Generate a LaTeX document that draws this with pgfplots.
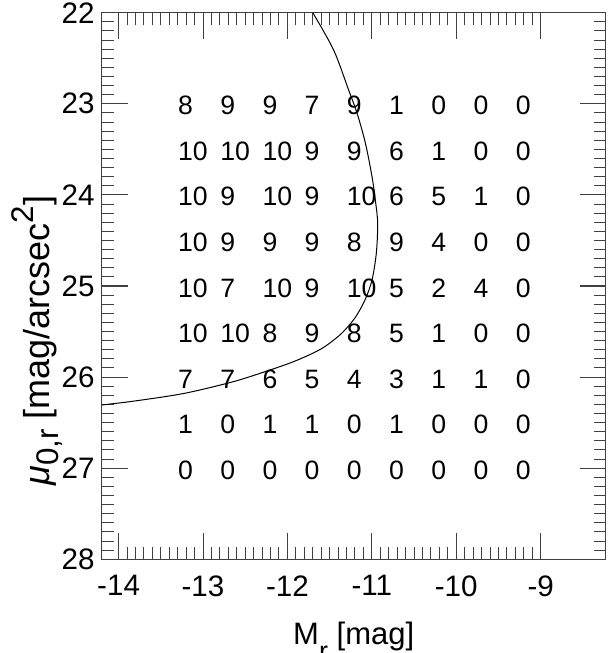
\documentclass[border=0pt]{standalone}
\usepackage{pgfplots}
\pgfplotsset{compat=1.18}
\usepackage{fontspec}
\setmainfont{Liberation Sans}
\newcommand{\lowr}[1]{\raisebox{-0.5em}{\fontsize{0.87em}{1em}\selectfont #1}}
\newcommand{\lowy}[1]{\raisebox{-0.25em}{\fontsize{0.87em}{1em}\selectfont #1}}
\newcommand{\upr}[1]{\raisebox{0.45em}{\fontsize{0.87em}{1em}\selectfont #1}}

% counts per bin: x = left edge of the number, y = row
\pgfplotstableread{
x y n
-13.3 23 8
-12.8 23 9
-12.3 23 9
-11.8 23 7
-11.3 23 9
-10.8 23 1
-10.3 23 0
-9.8 23 0
-9.3 23 0
-13.3 23.5 10
-12.8 23.5 10
-12.3 23.5 10
-11.8 23.5 9
-11.3 23.5 9
-10.8 23.5 6
-10.3 23.5 1
-9.8 23.5 0
-9.3 23.5 0
-13.3 24 10
-12.8 24 9
-12.3 24 10
-11.8 24 9
-11.3 24 10
-10.8 24 6
-10.3 24 5
-9.8 24 1
-9.3 24 0
-13.3 24.5 10
-12.8 24.5 9
-12.3 24.5 9
-11.8 24.5 9
-11.3 24.5 8
-10.8 24.5 9
-10.3 24.5 4
-9.8 24.5 0
-9.3 24.5 0
-13.3 25 10
-12.8 25 7
-12.3 25 10
-11.8 25 9
-11.3 25 10
-10.8 25 5
-10.3 25 2
-9.8 25 4
-9.3 25 0
-13.3 25.5 10
-12.8 25.5 10
-12.3 25.5 8
-11.8 25.5 9
-11.3 25.5 8
-10.8 25.5 5
-10.3 25.5 1
-9.8 25.5 0
-9.3 25.5 0
-13.3 26 7
-12.8 26 7
-12.3 26 6
-11.8 26 5
-11.3 26 4
-10.8 26 3
-10.3 26 1
-9.8 26 1
-9.3 26 0
-13.3 26.5 1
-12.8 26.5 0
-12.3 26.5 1
-11.8 26.5 1
-11.3 26.5 0
-10.8 26.5 1
-10.3 26.5 0
-9.8 26.5 0
-9.3 26.5 0
-13.3 27 0
-12.8 27 0
-12.3 27 0
-11.8 27 0
-11.3 27 0
-10.8 27 0
-10.3 27 0
-9.8 27 0
-9.3 27 0
}\counts

\begin{document}
\begin{tikzpicture}
\begin{axis}[
  name=ax,
  scale only axis,
  width=252pt, height=273.3pt,
  xmin=-14.2, xmax=-8.23,
  ymin=22, ymax=28,
  y dir=reverse,
  xtick={-14,-13,-12,-11,-10,-9},
  ytick={22,23,24,25,26,27,28},
  minor tick num=9,
  tick align=inside,
  major tick length=13pt,
  minor tick length=6pt,
  every tick/.style={black!75, line width=0.5pt},
  axis line style={black!75, line width=0.5pt},
  /pgf/number format/assume math mode=true,
  tick label style={font=\fontsize{14.8}{18}\selectfont},
  xticklabel style={yshift=-4.5pt},
  yticklabel style={xshift=0pt},
  xlabel={M\lowr{r} [mag]},
  ylabel={\textit{μ}\lowy{0,r} [mag/arcsec\upr{2}]},
  every axis x label/.style={at={(axis description cs:0.5,-0.156)}, anchor=base,
    font=\fontsize{15.5}{18}\selectfont},
  every axis y label/.style={at={(axis description cs:-0.1026,0.40)}, anchor=base,
    rotate=90, font=\fontsize{18}{22}\selectfont},
]
\addplot[draw=none, nodes near coords, point meta=explicit symbolic,
  nodes near coords style={anchor=base west, inner sep=0pt, yshift=-5.5pt,
    font=\fontsize{13.3}{16}\selectfont}]
  table[x=x, y=y, meta=n] {\counts};
\addplot[black, line width=0.5pt, smooth] coordinates {
  (-11.70,22.00) (-11.453,22.409) (-11.275,22.849) (-11.175,23.104)
  (-11.077,23.430) (-10.998,23.800) (-10.959,24.056) (-10.931,24.312)
  (-10.947,24.638) (-10.998,24.934) (-11.08,25.15) (-11.20,25.35)
  (-11.37,25.53) (-11.60,25.69) (-11.90,25.82) (-12.20,25.92)
  (-12.64,26.05) (-13.23,26.18) (-13.83,26.265) (-14.20,26.306)
};
\end{axis}
\pgfresetboundingbox
\path ([xshift=-50.85pt,yshift=-46.85pt]ax.south west) rectangle ([xshift=1pt,yshift=6.35pt]ax.north east);
\end{tikzpicture}
\end{document}
